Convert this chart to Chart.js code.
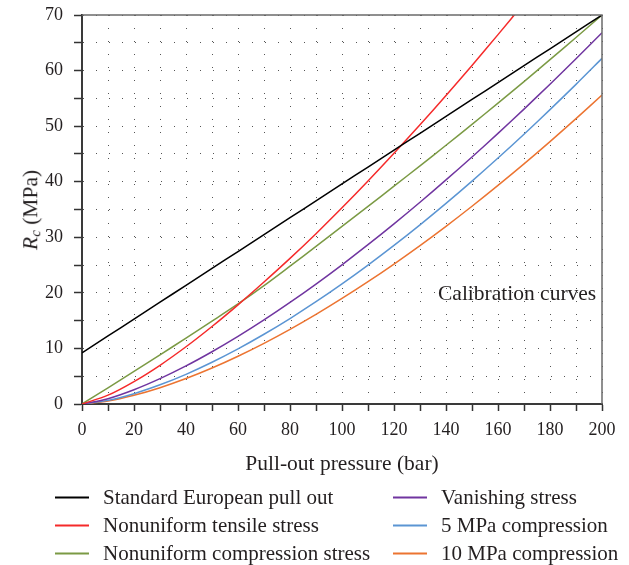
<!DOCTYPE html>
<html><head><meta charset="utf-8">
<script src="https://cdn.jsdelivr.net/npm/chart.js@4.4.0/dist/chart.umd.min.js"></script>
<style>
html,body{margin:0;padding:0;background:#fff;}
#wrap{position:relative;width:629px;height:565px;font-family:"Liberation Serif","DejaVu Serif",serif;color:#231f20;overflow:hidden;}
canvas{position:absolute;left:0;top:0;}
.ytitle{position:absolute;left:31px;top:210px;transform:translate(-50%,-50%) rotate(-90deg);font-size:21.5px;line-height:1;white-space:nowrap;}
.ytitle sub{font-size:15px;vertical-align:-3px;line-height:0;}
.note{position:absolute;left:438px;top:293px;transform:translateY(-50%);font-size:21.5px;white-space:nowrap;}
.leg{position:absolute;display:flex;align-items:center;font-size:21px;white-space:nowrap;transform:translateY(-50%);}
.leg .sw{display:inline-block;width:34px;height:0;border-top:2px solid;margin-right:14px;}
</style></head>
<body><div id="wrap"><canvas id="c" width="629" height="565"></canvas>
<div class="ytitle"><i>R</i><sub><i>c</i></sub> (MPa)</div>
<div class="note">Calibration curves</div>
<div id="legend"></div></div>
<script>
const pressure = [0,10,20,30,40,50,60,70,80,90,100,110,120,130,140,150,160,170,180,190,200];
const standardEuropean = [9.2,12.24,15.28,18.32,21.36,24.4,27.44,30.48,33.52,36.56,39.6,42.64,45.68,48.72,51.76,54.8,57.84,60.88,63.92,66.96,70.0];
const nonuniformTensile = [0,1.59,4.04,6.97,10.3,13.95,17.85,21.95,26.2,30.65,35.3,40.13,45.12,50.24,55.52,60.93,66.47,72.13,null,null,null];
const nonuniformCompression = [0,2.9,5.85,8.85,11.85,14.9,18.0,21.3,24.8,28.35,31.95,35.55,39.2,42.86,46.56,50.33,54.14,58.02,61.96,65.95,70.0];
const vanishingStress = [0,0.96,2.57,4.56,6.85,9.4,12.16,15.12,18.27,21.58,25.05,28.67,32.42,36.31,40.32,44.45,48.7,53.07,57.55,62.12,66.8];
const compression5 = [0,0.65,1.86,3.45,5.34,7.51,9.92,12.55,15.38,18.4,21.61,25.0,28.54,32.24,36.1,40.11,44.26,48.55,52.97,57.51,62.19];
const compression10 = [0,0.54,1.57,2.94,4.59,6.48,8.6,10.92,13.43,16.12,18.99,22.01,25.19,28.51,31.98,35.59,39.34,43.21,47.22,51.35,55.6];
const seriesNames = ["Standard European pull out","Nonuniform tensile stress","Nonuniform compression stress","Vanishing stress","5 MPa compression","10 MPa compression"];
const seriesColors = ["#000000","#f52a2a","#7b9a44","#7035a0","#5b95d3","#ec7431"];
const seriesData = [standardEuropean,nonuniformTensile,nonuniformCompression,vanishingStress,compression5,compression10];
const xTicks = [0,20,40,60,80,100,120,140,160,180,200];
const yTicks = [0,10,20,30,40,50,60,70];

const FONT = '"Liberation Serif","DejaVu Serif",serif';
const datasets = seriesData.map((arr,i)=>({
  label: seriesNames[i],
  data: pressure.map((x,j)=>({x:x,y:arr[j]})),
  borderColor: seriesColors[i],
  backgroundColor: seriesColors[i],
  borderWidth: 1.5,
  pointRadius: 0,
  tension: 0.3,
  fill: false,
  spanGaps: false
}));
const frame = {
  id:'frame',
  afterDraw(chart){
    const {ctx, chartArea:a} = chart;
    ctx.save();
    ctx.strokeStyle='#6b6b6b'; ctx.lineWidth=1.5;
    ctx.beginPath(); ctx.moveTo(a.left,a.top); ctx.lineTo(a.right,a.top); ctx.lineTo(a.right,a.bottom); ctx.stroke();
    ctx.restore();
  }
};
const chart = new Chart(document.getElementById('c'),{
  type:'line',
  data:{datasets:datasets},
  options:{
    responsive:false, animation:false, devicePixelRatio:1,
    layout:{padding:{left:0,top:15,right:27,bottom:84}},
    plugins:{legend:{display:false},tooltip:{enabled:false}},
    scales:{
      x:{type:'linear',min:0,max:200,
        ticks:{stepSize:10,autoSkip:false,maxRotation:0,padding:8,color:'#231f20',font:{family:FONT,size:18},
          callback:v=> xTicks.includes(v)? String(v):''},
        grid:{color:'#555',lineWidth:1,tickLength:7,tickColor:'#333',tickWidth:1.5},
        border:{color:'#3a3a3a',width:2,dash:[1,12]},
        title:{display:true,text:'Pull-out pressure (bar)',color:'#231f20',font:{family:FONT,size:21.5},padding:{top:4,bottom:4}},
        afterFit:s=>{s.height=77; s.paddingLeft=0; s.paddingRight=0;}
      },
      y:{type:'linear',min:0,max:70,
        ticks:{stepSize:5,autoSkip:false,padding:11,color:'#231f20',font:{family:FONT,size:18},
          callback:v=> yTicks.includes(v)? String(v):''},
        grid:{color:'#555',lineWidth:1,tickLength:8,tickColor:'#333',tickWidth:1.5},
        border:{color:'#3a3a3a',width:2,dash:[1,12]},
        afterFit:s=>{s.width=82; s.paddingTop=0; s.paddingBottom=0;}
      }
    }
  },
  plugins:[frame]
});
const legPos = [[55,497],[55,525],[55,553],[393,497],[393,525],[393,553]];
const legEl = document.getElementById('legend');
chart.data.datasets.forEach((d,i)=>{
  const div=document.createElement('div');
  div.className='leg';
  div.style.left=legPos[i][0]+'px'; div.style.top=legPos[i][1]+'px';
  const sw=document.createElement('span'); sw.className='sw'; sw.style.borderTopColor=d.borderColor;
  const t=document.createElement('span'); t.textContent=d.label;
  div.appendChild(sw); div.appendChild(t); legEl.appendChild(div);
});
</script>
</body></html>
